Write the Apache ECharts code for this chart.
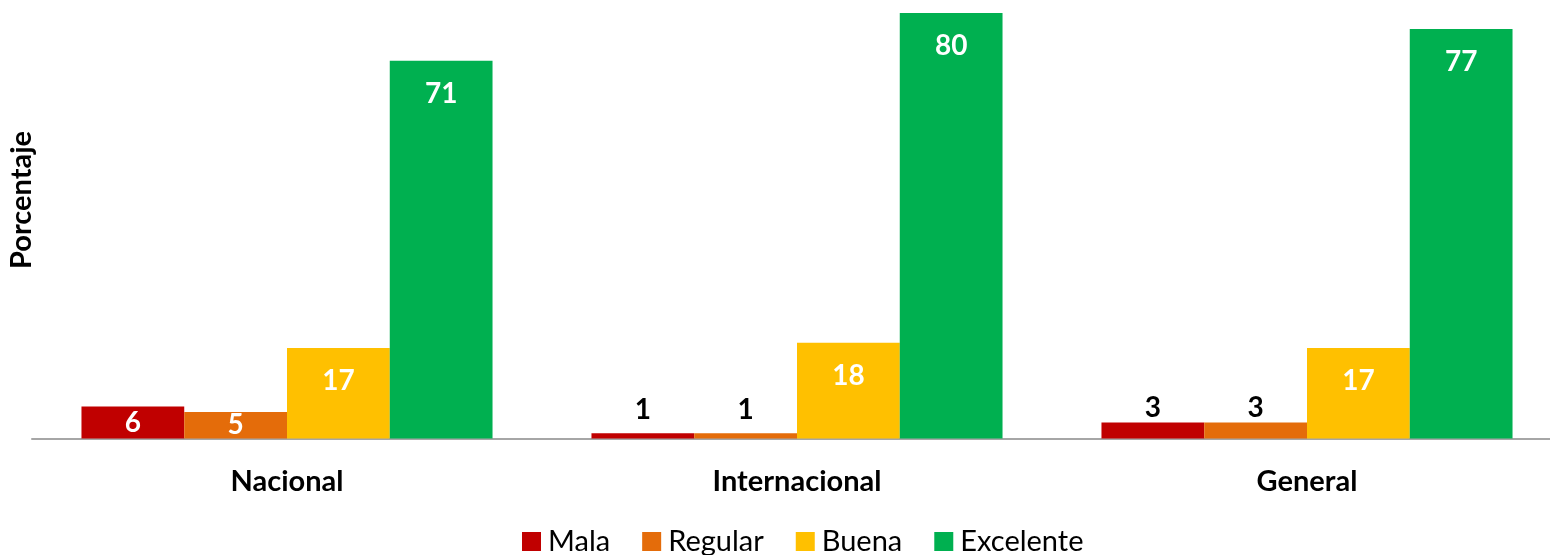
<!DOCTYPE html>
<html>
<head>
<meta charset="utf-8">
<script src="https://cdn.jsdelivr.net/npm/echarts@6/dist/echarts.min.js"></script>
<style>
  html, body { margin: 0; padding: 0; background: #fff; }
  #chart { width: 1550px; height: 555px; }
</style>
</head>
<body>
<div id="chart"></div>
<script>
// Survey ratings (percent) by group
const categories = ['Nacional', 'Internacional', 'General'];
const seriesNames = ['Mala', 'Regular', 'Buena', 'Excelente'];
const mala = [6, 1, 3];
const regular = [5, 1, 3];
const buena = [17, 18, 17];
const excelente = [71, 80, 77];
const colors = ['#C00000', '#E46C0A', '#FFC000', '#00B050'];

const FONT = 'Lato';
const values = [mala, regular, buena, excelente];

// Small bars get the value above them in black, the rest inside in white
function labelFor(v) {
  const base = { show: true, fontFamily: FONT, fontWeight: 'bold', fontSize: 28 };
  if (v <= 3) {
    return Object.assign(base, { position: 'top', distance: v <= 1 ? 9 : 1, color: '#000' });
  }
  if (v <= 8) {
    return Object.assign(base, { position: 'inside', color: '#fff' });
  }
  return Object.assign(base, { position: 'insideTop', distance: 19, color: '#fff' });
}

const series = seriesNames.map((name, i) => ({
  name,
  type: 'bar',
  barGap: '0%',
  barCategoryGap: '19.4%',
  itemStyle: { color: colors[i] },
  data: values[i].map(v => ({ value: v, label: labelFor(v) })),
  emphasis: { disabled: true }
}));

const chart = echarts.init(document.getElementById('chart'), null, { renderer: 'canvas' });
chart.setOption({
  animation: false,
  backgroundColor: '#fff',
  grid: { left: 32, width: 1530, top: 13, height: 425.5, containLabel: false, outerBoundsMode: 'none' },
  xAxis: {
    type: 'category',
    data: categories,
    axisLine: { show: true, lineStyle: { color: '#A6A6A6', width: 2 } },
    axisTick: { show: false },
    axisLabel: { color: '#000', fontFamily: FONT, fontWeight: 'bold', fontSize: 29, margin: 29 }
  },
  yAxis: {
    type: 'value',
    min: 0,
    max: 80,
    axisLine: { show: false },
    axisTick: { show: false },
    axisLabel: { show: false },
    splitLine: { show: false }
  },
  legend: {
    data: seriesNames,
    top: 522,
    left: 517,
    icon: 'rect',
    itemWidth: 19,
    itemHeight: 19,
    itemGap: 32,
    textStyle: { color: '#000', fontFamily: FONT, fontSize: 29, padding: [0, 0, 0, 2] }
  },
  graphic: [{
    type: 'text',
    x: 22,
    y: 200,
    rotation: Math.PI / 2,
    style: {
      text: 'Porcentaje',
      fill: '#000',
      font: 'bold 29px Lato',
      align: 'center',
      verticalAlign: 'middle'
    }
  }],
  series
});
</script>
</body>
</html>
